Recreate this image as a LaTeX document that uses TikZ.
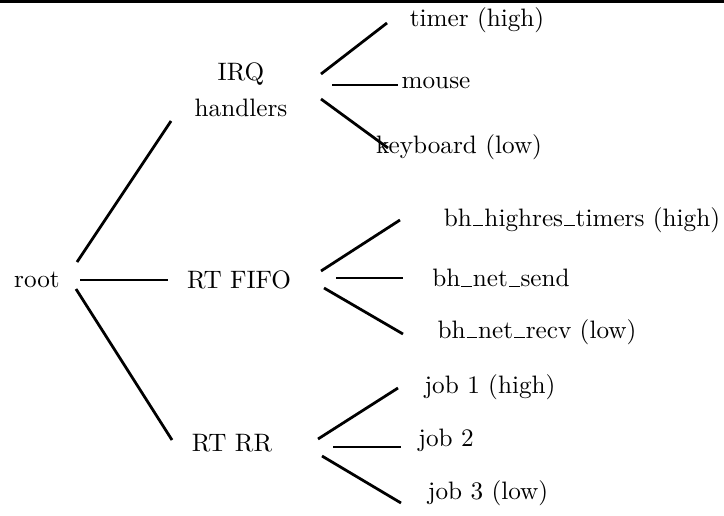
\documentclass[tikz,border=0pt]{standalone}
\usepackage{tikz}
\newcommand{\uscore}{\leavevmode\kern.04em\vbox{\hrule width.42em}\kern.04em}

\begin{document}
\begin{tikzpicture}[
  x=0.3968pt, y=-0.3968pt,
  every node/.style={inner sep=0pt},
  branch/.style={line width=1.1pt}
]
  \useasboundingbox (0,0) rectangle (724,515);
  \draw[line width=1.2pt] (0,1.5) -- (724,1.5);

  \node (root) at (37,280) {root};
  \node[align=center] (irq) at (241,90) {IRQ\\[2.4pt]handlers};
  \node (fifo) at (239,280) {RT FIFO};
  \node (rr) at (232,443) {RT RR};

  \node (timer) at (477,20) {timer (high)};
  \node (mouse) at (436,83) {mouse};
  \node (keyboard) at (459,147) {keyboard (low)};

  \node (highres) at (582,220) {bh\uscore highres\uscore timers (high)};
  \node (netsend) at (501,278) {bh\uscore net\uscore send};
  \node (netrecv) at (537,332) {bh\uscore net\uscore recv (low)};

  \node (job1) at (490,387) {job 1 (high)};
  \node (job2) at (446,440) {job 2};
  \node (job3) at (488,493) {job 3 (low)};

  \draw[branch] ([shift={(40,-18)}]root.center) -- ([shift={(-70,31)}]irq.center);
  \draw[branch] ([shift={(43,0)}]root.center) -- ([shift={(-71,0)}]fifo.center);
  \draw[branch] ([shift={(39,9)}]root.center) -- ([shift={(-60,-3)}]rr.center);

  \draw[branch] ([shift={(80,-16)}]irq.center) -- ([shift={(-90,3)}]timer.center);
  \draw[branch] ([shift={(91,-5)}]irq.center) -- ([shift={(-38,2)}]mouse.center);
  \draw[branch] ([shift={(80,9)}]irq.center) -- ([shift={(-71,1)}]keyboard.center);

  \draw[branch] ([shift={(82,-9)}]fifo.center) -- ([shift={(-182,0)}]highres.center);
  \draw[branch] ([shift={(97,-2)}]fifo.center) -- ([shift={(-98,0)}]netsend.center);
  \draw[branch] ([shift={(85,8)}]fifo.center) -- ([shift={(-134,2)}]netrecv.center);

  \draw[branch] ([shift={(86,-4)}]rr.center) -- ([shift={(-92,1)}]job1.center);
  \draw[branch] ([shift={(101,4)}]rr.center) -- ([shift={(-45,7)}]job2.center);
  \draw[branch] ([shift={(90,13)}]rr.center) -- ([shift={(-87,10)}]job3.center);
\end{tikzpicture}
\end{document}
